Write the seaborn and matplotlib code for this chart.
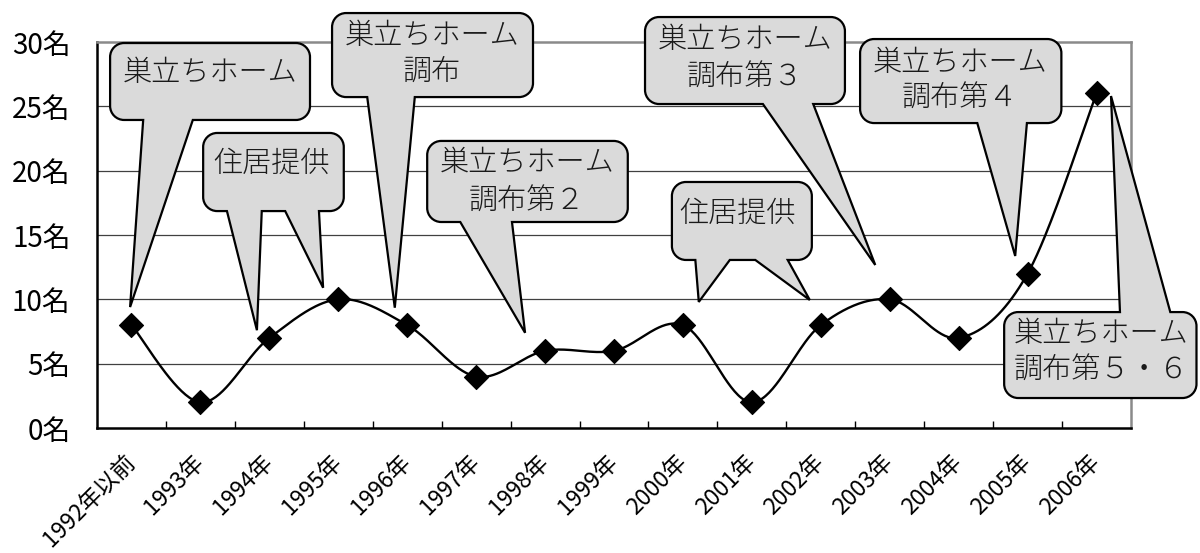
import numpy as np
import pandas as pd
import matplotlib
matplotlib.use("Agg")
import matplotlib.pyplot as plt
import seaborn as sns
from matplotlib.path import Path
from matplotlib.patches import PathPatch

# ---------------- data ----------------
categories = ['1992年以前', '1993年', '1994年', '1995年', '1996年', '1997年', '1998年',
              '1999年', '2000年', '2001年', '2002年', '2003年', '2004年', '2005年', '2006年']
counts = [8, 2, 7, 10, 8, 4, 6, 6, 8, 2, 8, 10, 7, 12, 26]
y_ticks = [0, 5, 10, 15, 20, 25, 30]
y_tick_labels = [f'{v}名' for v in y_ticks]

callout_texts = [
    ['巣立ちホーム'],
    ['住居提供'],
    ['巣立ちホーム', '調布'],
    ['巣立ちホーム', '調布第２'],
    ['住居提供'],
    ['巣立ちホーム', '調布第３'],
    ['巣立ちホーム', '調布第４'],
    ['巣立ちホーム', '調布第５・６'],
]

# callout layout in data coordinates: box (x0, x1, y0, y1), tails (base_left, base_right, tip_x, tip_y),
# tail side, text line centres
callout_layout = [
    dict(box=(-0.31, 2.59, 23.94, 29.92), tails=[(0.17, 0.89, -0.02, 9.4)], side='bottom',
         lines=[(1.14, 27.6)]),
    dict(box=(1.04, 3.08, 16.86, 22.93), tails=[(1.385, 1.89, 1.82, 7.6), (2.23, 2.72, 2.78, 10.9)],
         side='bottom', lines=[(2.03, 20.56)]),
    dict(box=(2.91, 5.825, 25.72, 32.25), tails=[(3.42, 4.11, 3.82, 9.35)], side='bottom',
         lines=[(4.36, 30.47), (4.36, 27.67)]),
    dict(box=(4.29, 7.20, 16.01, 22.31), tails=[(4.77, 5.52, 5.71, 7.4)], side='bottom',
         lines=[(5.74, 20.60), (5.74, 17.64)]),
    dict(box=(7.84, 9.87, 13.06, 19.12), tails=[(8.18, 8.68, 8.23, 9.8), (9.05, 9.52, 9.84, 9.95)],
         side='bottom', lines=[(8.79, 16.67)]),
    dict(box=(7.45, 10.35, 25.18, 31.94), tails=[(9.16, 9.89, 10.79, 12.67)], side='bottom',
         lines=[(8.90, 30.15), (8.90, 27.28)]),
    dict(box=(10.57, 13.49, 23.70, 30.23), tails=[(12.27, 12.99, 12.82, 13.37)], side='bottom',
         lines=[(12.02, 28.37), (12.02, 25.65)]),
    dict(box=(12.66, 15.45, 2.33, 9.01), tails=[(14.34, 15.07, 14.21, 25.8)], side='top',
         lines=[(14.065, 7.31), (14.065, 4.51)]),
]

# ---------------- style ----------------
sns.set_theme(style="white")
plt.rcParams['font.family'] = ['Noto Sans CJK JP', 'DejaVu Sans']

W, H, DPI = 1200, 553, 100
fig = plt.figure(figsize=(W / DPI, H / DPI), dpi=DPI)
ax = fig.add_axes([97 / W, 125 / H, 1034 / W, 386 / H])

n = len(categories)
ax.set_xlim(-0.5, n - 0.5)
ax.set_ylim(0, 30)

# smooth (Excel-like Catmull-Rom) curve through the data points
def smooth_curve(xs, ys, steps=40):
    pts = np.column_stack([xs, ys]).astype(float)
    out = []
    m = len(pts)
    for i in range(m - 1):
        p0 = pts[i - 1] if i > 0 else pts[i]
        p1 = pts[i]
        p2 = pts[i + 1]
        p3 = pts[i + 2] if i + 2 < m else pts[i + 1]
        c1 = p1 + (p2 - p0) / 6.0
        c2 = p2 - (p3 - p1) / 6.0
        t = np.linspace(0, 1, steps, endpoint=(i == m - 2))[:, None]
        seg = ((1 - t) ** 3) * p1 + 3 * ((1 - t) ** 2) * t * c1 + 3 * (1 - t) * t ** 2 * c2 + t ** 3 * p2
        out.append(seg)
    out = np.vstack(out)
    return out[:, 0], out[:, 1]

xpos = np.arange(n)
sx, sy = smooth_curve(xpos, counts)
curve_df = pd.DataFrame({'x': sx, 'y': sy})
pts_df = pd.DataFrame({'x': xpos, 'y': counts})

# grid
for v in y_ticks[1:-1]:
    ax.axhline(v, color='#404040', lw=0.9, zorder=1)

sns.lineplot(data=curve_df, x='x', y='y', ax=ax, sort=False, estimator=None,
             color='black', lw=1.7, zorder=4)
sns.scatterplot(data=pts_df, x='x', y='y', ax=ax, marker='D', s=150, color='black',
                edgecolor='black', linewidth=0.8, zorder=6)

# spines
for side in ['left', 'bottom']:
    ax.spines[side].set_color('black')
    ax.spines[side].set_linewidth(1.8)
for side in ['top', 'right']:
    ax.spines[side].set_color('#8a8a8a')
    ax.spines[side].set_linewidth(1.8)

ax.set_xlabel('')
ax.set_ylabel('')
ax.set_yticks(y_ticks)
ax.set_yticklabels(y_tick_labels, fontsize=20)
ax.tick_params(axis='y', length=0, pad=19, colors='black')

ax.set_xticks(xpos)
ax.set_xticklabels(categories, rotation=45, ha='right', va='center', rotation_mode='anchor',
                   fontsize=16.5)
ax.set_xticks(np.arange(0.5, n - 1, 1.0), minor=True)
ax.tick_params(axis='x', which='major', length=0, pad=22, colors='black')
ax.tick_params(axis='x', which='minor', direction='in', length=5, width=1.0, color='black', bottom=True)

# callouts
px_per_x = 1034 / n
px_per_y = 386 / 30
R = 14
rx, ry = R / px_per_x, R / px_per_y
K = 0.5523

def callout_path(box, tails, side):
    x0, x1, y0, y1 = box
    verts, codes = [], []

    def move(p):
        verts.append(p); codes.append(Path.MOVETO)

    def line(p):
        verts.append(p); codes.append(Path.LINETO)

    def curve(c1, c2, p):
        verts.extend([c1, c2, p]); codes.extend([Path.CURVE4] * 3)

    move((x0 + rx, y0))
    if side == 'bottom':
        for bl, br, tx, ty in sorted(tails):
            line((bl, y0)); line((tx, ty)); line((br, y0))
    line((x1 - rx, y0))
    curve((x1 - rx + K * rx, y0), (x1, y0 + ry - K * ry), (x1, y0 + ry))
    line((x1, y1 - ry))
    curve((x1, y1 - ry + K * ry), (x1 - rx + K * rx, y1), (x1 - rx, y1))
    if side == 'top':
        for bl, br, tx, ty in sorted(tails, reverse=True):
            line((br, y1)); line((tx, ty)); line((bl, y1))
    line((x0 + rx, y1))
    curve((x0 + rx - K * rx, y1), (x0, y1 - ry + K * ry), (x0, y1 - ry))
    line((x0, y0 + ry))
    curve((x0, y0 + ry - K * ry), (x0 + rx - K * rx, y0), (x0 + rx, y0))
    verts.append((x0 + rx, y0)); codes.append(Path.CLOSEPOLY)
    return Path(verts, codes)

for texts, lay in zip(callout_texts, callout_layout):
    p = callout_path(lay['box'], lay['tails'], lay['side'])
    patch = PathPatch(p, facecolor='#dadada', edgecolor='black', lw=1.6, zorder=5,
                      transform=ax.transData, clip_on=False, joinstyle='miter')
    ax.add_patch(patch)
    for txt, (tx, ty) in zip(texts, lay['lines']):
        ax.text(tx, ty, txt, ha='center', va='center', fontsize=21, color='#1a1a1a',
                zorder=7, clip_on=False, fontweight='light')

fig.savefig('out.png', dpi=DPI)
